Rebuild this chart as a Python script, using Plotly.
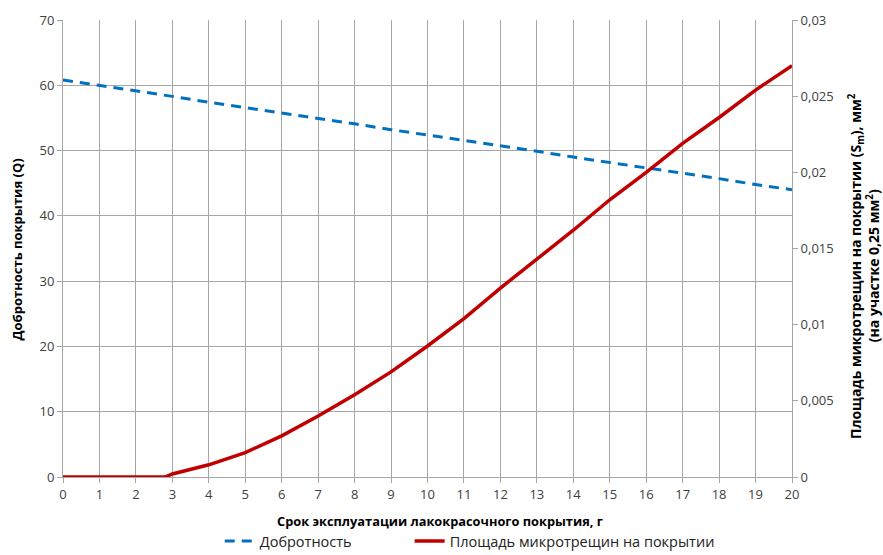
import plotly.graph_objects as go

years = [0, 1, 2, 3, 4, 5, 6, 7, 8, 9, 10, 11, 12, 13, 14, 15, 16, 17, 18, 19, 20]
quality = [60.8, 60.0, 59.1, 58.3, 57.4, 56.6, 55.8, 54.9, 54.1, 53.2, 52.4,
           51.6, 50.7, 49.9, 49.0, 48.2, 47.4, 46.5, 45.7, 44.8, 44.0]

crack_years = [0, 1, 2, 2.8, 3, 4, 5, 6, 7, 8, 9, 10, 11, 12, 13, 14, 15, 16, 17, 18, 19, 20]
crack_area = [0, 0, 0, 0, 0.0002, 0.0008, 0.0016, 0.0027, 0.0040, 0.0054, 0.0069,
              0.0086, 0.0104, 0.0124, 0.0143, 0.0162, 0.0182, 0.0200, 0.0219,
              0.0236, 0.0254, 0.0270]

x_ticks = list(range(0, 21))
y_ticks = [0, 10, 20, 30, 40, 50, 60, 70]
y2_ticks = [0, 0.005, 0.01, 0.015, 0.02, 0.025, 0.03]
y2_ticktext = ["0", "0,005", "0,01", "0,015", "0,02", "0,025", "0,03"]

name_q = "Добротность"
name_s = "Площадь микротрещин на покрытии"
x_title = "<b>Срок эксплуатации лакокрасочного покрытия, г</b>"
y_title = "<b>Добротность покрытия (Q)</b>"
y2_title_1 = "<b>Площадь микротрещин на покрытии (S<sub>m</sub>), мм<sup>2</sup></b>"
y2_title_2 = "<b>(на участке 0,25 мм<sup>2</sup>)</b>"

FONT = "Open Sans"
GRID = "#A6A6A6"
TICKC = "#404040"
TITLEC = "#000000"

fig = go.Figure()
fig.add_trace(go.Scatter(x=years, y=quality, mode="lines", name=name_q, legend="legend",
                         showlegend=True,
                         line=dict(color="#0070C0", width=3, dash="10px,7px")))
fig.add_trace(go.Scatter(x=crack_years, y=crack_area, mode="lines", name=name_s,
                         legend="legend2", yaxis="y2", showlegend=True,
                         line=dict(color="#C00000", width=3.5)))

common_axis = dict(showline=True, linecolor=GRID, linewidth=1, ticks="outside", ticklen=5,
                   tickcolor=GRID, zeroline=False)

fig.update_layout(
    width=883, height=555,
    showlegend=True,
    margin=dict(l=63, r=91, t=20, b=78, autoexpand=False),
    paper_bgcolor="white", plot_bgcolor="white",
    font=dict(family=FONT, size=13, color=TICKC),
    xaxis=dict(range=[0, 20], tickvals=x_ticks, showgrid=True, gridcolor=GRID, gridwidth=1,
               **common_axis),
    yaxis=dict(range=[0, 70], tickvals=y_ticks, showgrid=True, gridcolor=GRID, gridwidth=1,
               **common_axis),
    yaxis2=dict(range=[0, 0.03], tickvals=y2_ticks, ticktext=y2_ticktext, overlaying="y",
                side="right", showgrid=False, **common_axis),
    legend=dict(orientation="h", x=0.215, xanchor="left", y=-0.105, yanchor="top",
                font=dict(size=14.5, color="#222222"), bgcolor="rgba(0,0,0,0)", visible=True),
    legend2=dict(orientation="h", x=0.4755, xanchor="left", y=-0.105, yanchor="top",
                 font=dict(size=14.5, color="#222222"), bgcolor="rgba(0,0,0,0)", visible=True),
    annotations=[
        dict(text=x_title, xref="paper", yref="paper", x=0.517, y=-0.0963,
             xanchor="center", yanchor="middle", showarrow=False,
             font=dict(size=12.8, color=TITLEC)),
        dict(text=y_title, xref="paper", yref="paper", x=-0.0625, y=0.499, textangle=-90,
             xanchor="center", yanchor="middle", showarrow=False,
             font=dict(size=13, color=TITLEC)),
        dict(text=y2_title_1, xref="paper", yref="paper", x=1.088, y=0.462, textangle=-90,
             xanchor="center", yanchor="middle", showarrow=False,
             font=dict(size=14, color=TITLEC)),
        dict(text=y2_title_2, xref="paper", yref="paper", x=1.1115, y=0.462, textangle=-90,
             xanchor="center", yanchor="middle", showarrow=False,
             font=dict(size=14, color=TITLEC)),
    ],
)

fig.write_html("out.html")
